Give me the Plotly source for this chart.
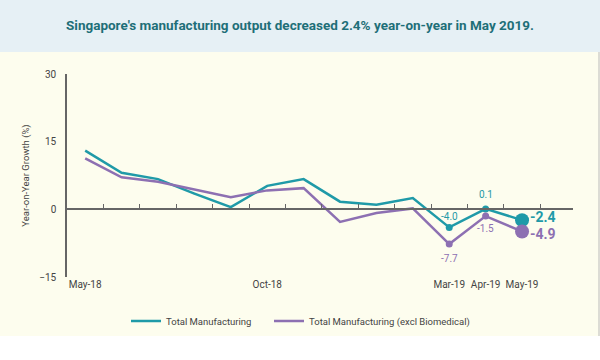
import plotly.graph_objects as go

months = ["May-18", "Jun-18", "Jul-18", "Aug-18", "Sep-18", "Oct-18", "Nov-18",
          "Dec-18", "Jan-19", "Feb-19", "Mar-19", "Apr-19", "May-19"]
total_mfg = [13.0, 8.1, 6.7, 3.5, 0.5, 5.2, 6.7, 1.7, 1.0, 2.5, -4.0, 0.1, -2.4]
excl_bio = [11.3, 7.1, 6.1, 4.4, 2.7, 4.2, 4.7, -2.8, -0.8, 0.2, -7.7, -1.5, -4.9]
shown_ticks = ["May-18", "Oct-18", "Mar-19", "Apr-19", "May-19"]
y_ticks = [-15, 0, 15, 30]

TEAL = "#1f9aa8"
PURPLE = "#8d70b2"
TITLE_C = "#1e6f78"
AX = "#666666"
TXT = "#444444"
CREAM = "#fdfdee"
BAND = "#e6f0f5"
FONT = "Roboto, Liberation Sans, sans-serif"

W, H = 600, 360
ML, MR, MT, MB = 67, 27, 74, 83
PW, PH = W - ML - MR, H - MT - MB
XR = [-0.5, 13.4]

fig = go.Figure()
fig.add_trace(go.Scatter(x=months, y=total_mfg, mode="lines", name="Total Manufacturing",
                         line=dict(color=TEAL, width=2.5), legend="legend"))
fig.add_trace(go.Scatter(x=months, y=excl_bio, mode="lines",
                         name="Total Manufacturing (excl Biomedical)",
                         line=dict(color=PURPLE, width=2.5), legend="legend2"))
sizes = [7, 7, 14]
fig.add_trace(go.Scatter(x=months[-3:], y=total_mfg[-3:], mode="markers", showlegend=False,
                         marker=dict(color=TEAL, size=sizes, opacity=1, line=dict(width=0))))
fig.add_trace(go.Scatter(x=months[-3:], y=excl_bio[-3:], mode="markers", showlegend=False,
                         marker=dict(color=PURPLE, size=sizes, opacity=1, line=dict(width=0))))
# empty trace so the zero-line axis (x2) gets drawn
fig.add_trace(go.Scatter(x=[], y=[], xaxis="x2", yaxis="y", showlegend=False, hoverinfo="skip"))

def fmt(v):
    return f"{v:.1f}"

ann = [
    dict(x=months[10], y=total_mfg[10], text=fmt(total_mfg[10]), yshift=11,
         font=dict(color=TEAL, size=10)),
    dict(x=months[10], y=excl_bio[10], text=fmt(excl_bio[10]), yshift=-14,
         font=dict(color=PURPLE, size=10)),
    dict(x=months[11], y=total_mfg[11], text=fmt(total_mfg[11]), yshift=14,
         font=dict(color=TEAL, size=10)),
    dict(x=months[11], y=excl_bio[11], text=fmt(excl_bio[11]), yshift=-12,
         font=dict(color=PURPLE, size=10)),
    dict(x=months[12], y=total_mfg[12], text="<b>" + fmt(total_mfg[12]) + "</b>",
         xanchor="left", xshift=6, yshift=3, font=dict(color=TEAL, size=14)),
    dict(x=months[12], y=excl_bio[12], text="<b>" + fmt(excl_bio[12]) + "</b>",
         xanchor="left", xshift=6, yshift=-3, font=dict(color=PURPLE, size=14)),
]
for a in ann:
    a.update(showarrow=False, xref="x", yref="y")
    a["font"]["family"] = FONT

shapes = [
    dict(type="rect", xref="paper", yref="paper", layer="below",
         x0=-ML / PW, x1=(W - ML) / PW, y0=(MT + PH - 52) / PH, y1=(MT + PH) / PH,
         fillcolor=BAND, line=dict(width=0)),
    dict(type="rect", xref="paper", yref="paper", layer="below",
         x0=-ML / PW, x1=(W - ML) / PW, y0=-MB / PH, y1=-(336 - (MT + PH)) / PH,
         fillcolor="#ffffff", line=dict(width=0)),
    dict(type="line", xref="paper", yref="paper", layer="below",
         x0=(599 - ML) / PW, x1=(599 - ML) / PW, y0=(MT + PH - 52) / PH, y1=-(336 - (MT + PH)) / PH,
         line=dict(color="#bbbbbb", width=1)),
]

leg_y = -(321 - (MT + PH)) / PH
fig.update_layout(
    width=W, height=H,
    margin=dict(l=ML, r=MR, t=MT, b=MB),
    paper_bgcolor=CREAM, plot_bgcolor=CREAM,
    title=dict(text="<b>Singapore's manufacturing output decreased 2.4% year-on-year in May 2019.</b>",
               x=0.5, xref="container", xanchor="center",
               y=1 - 25 / H, yref="container", yanchor="middle",
               font=dict(family=FONT, size=13.5, color=TITLE_C)),
    font=dict(family=FONT, color=TXT, size=10),
    xaxis=dict(type="category", range=XR, tickvals=shown_ticks, ticktext=shown_ticks,
               showgrid=False, zeroline=False, showline=False, ticks="", tickangle=0,
               tickfont=dict(size=10, color=TXT)),
    xaxis2=dict(overlaying="x", anchor="free", position=1 / 3, range=XR,
                tickvals=[i + 0.5 for i in range(len(months))], showticklabels=False,
                ticks="inside", ticklen=5, tickcolor=AX, tickwidth=1.2,
                showline=True, linecolor=AX, linewidth=1.5, showgrid=False,
                zeroline=False, fixedrange=True),
    yaxis=dict(range=[-15, 30], tickvals=y_ticks, showgrid=False, zeroline=False,
               showline=True, linecolor=AX, linewidth=1.5, ticks="",
               ticklabelstandoff=7,
               tickfont=dict(size=10, color=TXT),
               title=dict(text="Year-on-Year Growth (%)", font=dict(size=9.5, color=TXT),
                          standoff=8)),
    legend=dict(orientation="h", x=(126 - ML) / PW, xanchor="left",
                y=leg_y, yanchor="middle",
                bgcolor="rgba(0,0,0,0)", font=dict(size=9.5, color=TXT)),
    legend2=dict(orientation="h", x=(269 - ML) / PW, xanchor="left",
                 y=leg_y, yanchor="middle",
                 bgcolor="rgba(0,0,0,0)", font=dict(size=9.5, color=TXT)),
    annotations=ann,
    shapes=shapes,
)

fig.write_html("out.html", config={"displayModeBar": False},
               post_script="document.body.style.margin='0';")
